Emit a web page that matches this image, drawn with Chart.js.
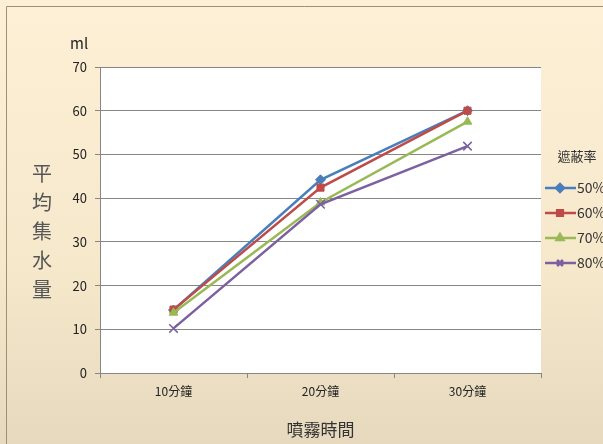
<!DOCTYPE html>
<html>
<head>
<meta charset="utf-8">
<script src="https://cdn.jsdelivr.net/npm/chart.js@4/dist/chart.umd.min.js"></script>
<style>
  html, body { margin: 0; padding: 0; background: #f3e7cc; }
  #wrap { width: 603px; height: 444px; position: relative; }
</style>
</head>
<body>
<div id="wrap"><canvas id="c" width="603" height="444"></canvas></div>
<script>
const categories = ['10分鐘', '20分鐘', '30分鐘']
const seriesNames = ['50%', '60%', '70%', '80%']
const s50 = [14.4, 44.2, 60.0]
const s60 = [14.5, 42.4, 60.0]
const s70 = [13.8, 39.0, 57.5]
const s80 = [10.2, 38.6, 51.9]
const yTicks = [0, 10, 20, 30, 40, 50, 60, 70]

const FONT = "'Noto Sans CJK TC', 'Noto Sans', sans-serif"
const colors = ['#4a7ebb', '#be4b48', '#98b954', '#7d60a0']
const markers = ['rectRot', 'rect', 'triangle', 'crossRot']
const values = [s50, s60, s70, s80]

// background, plot fill, and the extra text (unit, vertical title, legend)
const deco = {
  id: 'deco',
  beforeDraw(chart) {
    const { ctx, chartArea: a } = chart
    const g = ctx.createLinearGradient(0, 0, 0, 444)
    g.addColorStop(0, '#fdf0d6')
    g.addColorStop(0.6, '#f6e8cb')
    g.addColorStop(1, '#e6d9bd')
    ctx.save()
    ctx.fillStyle = g
    ctx.fillRect(0, 0, 603, 444)
    ctx.strokeStyle = '#a09070'
    ctx.lineWidth = 1
    ctx.beginPath()
    ctx.moveTo(6.5, 444); ctx.lineTo(6.5, 6.5); ctx.lineTo(603, 6.5)
    ctx.stroke()
    ctx.fillStyle = '#ffffff'
    ctx.fillRect(a.left, a.top, a.right - a.left, a.bottom - a.top)
    ctx.restore()
  },
  afterDraw(chart) {
    const { ctx } = chart
    ctx.save()
    ctx.fillStyle = '#222'
    ctx.font = '15px ' + FONT
    ctx.textAlign = 'left'
    ctx.textBaseline = 'middle'
    ctx.fillText('ml', 70, 43)

    // vertical y title
    ctx.fillStyle = '#555'
    ctx.font = '20px ' + FONT
    ctx.textAlign = 'center'
    const title = '平均集水量'
    for (let i = 0; i < title.length; i++) ctx.fillText(title[i], 42, 173 + i * 29)

    // legend
    ctx.fillStyle = '#333'
    ctx.font = '13px ' + FONT
    ctx.fillText('遮蔽率', 577, 156)
    ctx.textAlign = 'left'
    seriesNames.forEach((n, i) => {
      const y = 188 + i * 25
      ctx.strokeStyle = colors[i]
      ctx.lineWidth = 2.5
      ctx.beginPath(); ctx.moveTo(545, y); ctx.lineTo(576, y); ctx.stroke()
      Chart.helpers.drawPoint(ctx, {
        pointStyle: markers[i], radius: 4, rotation: 0, borderWidth: 1.5
      }, 560, y)
      ctx.fillStyle = colors[i]
      ctx.strokeStyle = colors[i]
      if (markers[i] === 'crossRot') ctx.stroke(); else ctx.fill()
      ctx.fillStyle = '#333'
      ctx.font = '14px ' + FONT
      ctx.fillText(n, 577, y)
    })
    ctx.restore()
  }
}

new Chart(document.getElementById('c'), {
  type: 'line',
  data: {
    labels: categories,
    datasets: seriesNames.map((n, i) => ({
      label: n,
      data: values[i],
      order: seriesNames.length - i,
      borderColor: colors[i],
      backgroundColor: colors[i],
      borderWidth: 2.5,
      pointStyle: markers[i],
      pointRadius: markers[i] === 'crossRot' ? 6 : 5,
      pointBorderWidth: markers[i] === 'crossRot' ? 1.5 : 1,
      tension: 0
    }))
  },
  options: {
    responsive: false,
    animation: false,
    layout: { padding: { top: 67, right: 62, left: 0, bottom: 0 } },
    plugins: { legend: { display: false }, tooltip: { enabled: false } },
    scales: {
      x: {
        offset: true,
        grid: { display: true, drawOnChartArea: false, offset: true, color: '#868686', tickLength: 5 },
        border: { color: '#868686' },
        ticks: { color: '#222', font: { family: FONT, size: 12 }, padding: 6 },
        title: { display: true, text: '噴霧時間', color: '#333', font: { family: FONT, size: 17 }, padding: { top: 6 } },
        afterFit(s) { s.height = 71 }
      },
      y: {
        min: 0, max: 70,
        afterBuildTicks(s) { s.ticks = yTicks.map(v => ({ value: v })) },
        grid: { color: '#868686', tickLength: 5 },
        border: { color: '#868686' },
        ticks: { color: '#222', font: { family: FONT, size: 13 }, padding: 8 },
        afterFit(s) { s.width = 100 }
      }
    }
  },
  plugins: [deco]
})
</script>
</body>
</html>
